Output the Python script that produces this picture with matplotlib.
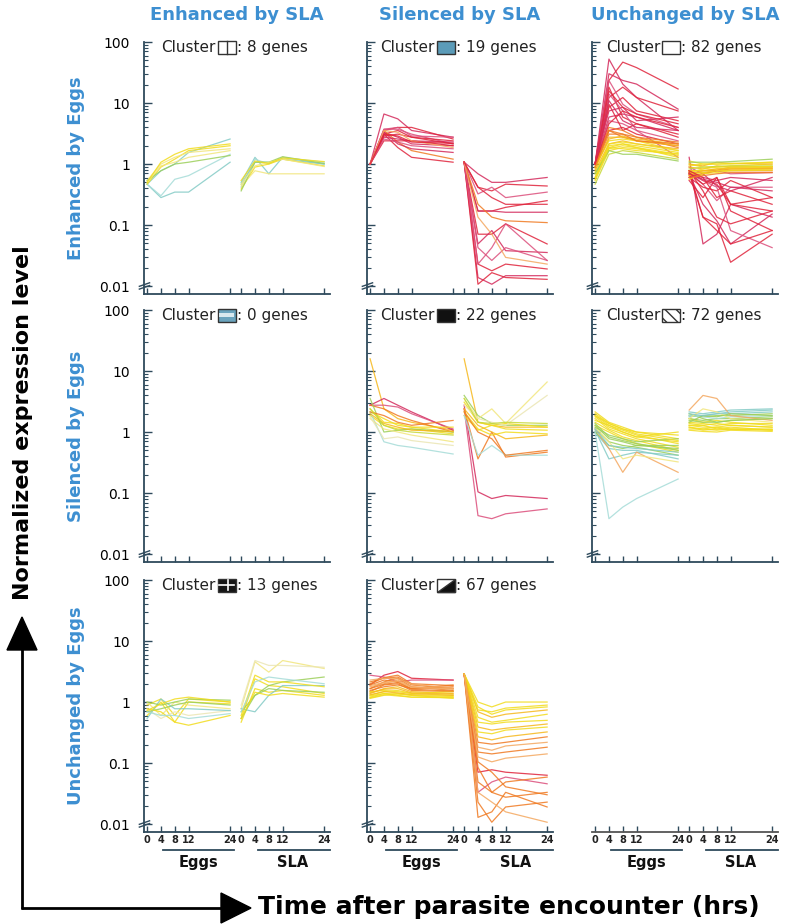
import numpy as np
import matplotlib
matplotlib.use("Agg")
import matplotlib.pyplot as plt
import matplotlib.transforms as mtransforms
from matplotlib.ticker import FixedLocator, NullFormatter
from matplotlib.patches import Rectangle, Polygon

# ---------------- data (log10 normalized expression) ----------------
TIME_EGGS = [0, 4, 8, 12, 24]
TIME_SLA = [0, 4, 8, 12, 24]
TICK_LABELS = ["0", "4", "8", "12", "24", "0", "4", "8", "12", "24"]
COL_TITLES = ["Enhanced by SLA", "Silenced by SLA", "Unchanged by SLA"]
ROW_TITLES = ["Enhanced by Eggs", "Silenced by Eggs", "Unchanged by Eggs"]
GENE_COUNTS = [8, 19, 82, 0, 22, 72, 13, 67]

A_EGGS = [[-0.33, -0.55, -0.46, -0.46, 0.03], [-0.33, -0.52, -0.25, -0.19, 0.16],
          [-0.33, -0.11, 0.00, 0.19, 0.41], [-0.33, -0.05, 0.08, 0.22, 0.30],
          [-0.27, 0.00, 0.11, 0.19, 0.25], [-0.27, -0.11, 0.00, 0.03, 0.14],
          [-0.30, -0.03, 0.03, 0.11, 0.22], [-0.30, 0.03, 0.16, 0.25, 0.33]]
A_SLA = [[-0.30, 0.11, -0.16, 0.11, 0.00], [-0.38, 0.08, 0.00, 0.11, 0.03],
         [-0.33, 0.03, 0.03, 0.08, 0.00], [-0.41, -0.05, 0.00, 0.08, -0.03],
         [-0.36, -0.11, -0.16, -0.16, -0.16], [-0.44, 0.03, 0.03, 0.12, 0.01],
         [-0.33, -0.03, 0.03, 0.08, -0.04], [-0.27, 0.05, 0.01, 0.10, 0.04]]
A_COL = ['teal', 'lteal', 'teal', 'yellow', 'lyellow', 'green', 'lyellow', 'yellow']

B_EGGS = [[0, 0.82, 0.74, 0.55, 0.44], [0, 0.55, 0.60, 0.60, 0.41], [0, 0.57, 0.57, 0.49, 0.33],
          [0, 0.49, 0.55, 0.44, 0.38], [0, 0.52, 0.44, 0.33, 0.30], [0, 0.55, 0.36, 0.22, 0.08],
          [0, 0.49, 0.27, 0.11, 0.03], [0, 0.44, 0.41, 0.38, 0.36], [0, 0.57, 0.60, 0.46, 0.44],
          [0, 0.38, 0.38, 0.38, 0.30], [0, 0.52, 0.33, 0.25, 0.19], [0, 0.46, 0.49, 0.44, 0.33],
          [0, 0.41, 0.36, 0.30, 0.25], [0, 0.55, 0.52, 0.38, 0.27], [0, 0.49, 0.46, 0.36, 0.34]]
B_SLA = [[0.03, -0.16, -0.30, -0.30, -0.22], [0.03, -0.38, -0.44, -0.33, -0.36],
         [0.03, -0.49, -0.38, -0.55, -0.46], [0.03, -0.77, -0.77, -0.71, -0.60],
         [0.03, -0.77, -0.77, -0.79, -0.79], [0.03, -0.66, -0.87, -0.93, -0.96],
         [0.03, -1.15, -1.15, -0.98, -1.31], [0.03, -1.31, -1.09, -1.42, -1.45],
         [0.03, -1.37, -1.58, -1.37, -1.58], [0.03, -1.64, -1.75, -1.64, -1.72],
         [0.03, -1.86, -1.97, -1.83, -1.83], [0.03, -1.97, -1.78, -1.86, -1.89],
         [0.03, -1.64, -1.37, -0.98, -1.58], [0.03, -0.87, -1.15, -1.53, -1.64],
         [0.03, -0.38, -0.55, -0.66, -0.66]]
B_COL = ['crimson', 'red', 'pink', 'red', 'crimson', 'orange', 'red', 'crimson',
         'pink', 'red', 'crimson', 'red', 'pink', 'lorange', 'red']

C_EGGS = [[0, 1.72, 1.31, 1.09, 0.55], [0, 1.37, 1.67, 1.58, 1.23], [0, 1.48, 1.37, 1.31, 0.90],
          [0, 1.09, 1.26, 1.09, 0.87], [0, 1.37, 0.98, 0.82, 0.60], [0, 0.93, 1.09, 0.87, 0.71],
          [0, 0.77, 0.82, 0.77, 0.55], [0, 1.26, 0.77, 0.66, 0.44], [0, 0.71, 0.66, 0.55, 0.38],
          [0, 0.98, 0.55, 0.66, 0.49], [0, 0.87, 0.93, 0.71, 0.77], [0, 0.55, 0.60, 0.49, 0.33],
          [0, 1.15, 0.87, 0.55, 0.11], [0, 0.60, 0.55, 0.44, 0.36], [-0.05, 0.49, 0.49, 0.44, 0.27],
          [0, 0.55, 0.44, 0.38, 0.30], [-0.05, 0.38, 0.41, 0.38, 0.22], [-0.11, 0.33, 0.38, 0.33, 0.25],
          [-0.16, 0.30, 0.33, 0.30, 0.19], [-0.22, 0.25, 0.30, 0.27, 0.16], [-0.27, 0.22, 0.27, 0.25, 0.14],
          [-0.05, 0.41, 0.46, 0.38, 0.30], [-0.14, 0.27, 0.33, 0.27, 0.11], [-0.33, 0.16, 0.22, 0.19, 0.08],
          [-0.22, 0.33, 0.36, 0.33, 0.22], [-0.16, 0.22, 0.16, 0.16, 0.05], [-0.25, 0.27, 0.25, 0.22, 0.17],
          [-0.08, 0.44, 0.44, 0.41, 0.33], [0, 1.20, 0.93, 0.82, 0.66], [0, 1.04, 0.71, 0.60, 0.55],
          [0, 0.66, 0.87, 0.77, 0.60], [-0.05, 0.55, 0.49, 0.38, 0.33]]
C_SLA = [[0.11, -1.31, -1.15, -0.66, -0.87], [-0.11, -0.87, -0.98, -1.61, -1.15],
         [-0.16, -0.66, -0.93, -1.31, -0.82], [-0.11, -0.27, -0.33, -0.66, -0.77],
         [-0.16, -0.33, -0.60, -0.38, -0.38], [-0.22, -0.38, -0.44, -0.27, -0.55],
         [-0.16, -0.22, -0.27, -0.22, -0.27], [-0.27, -0.55, -0.22, -0.77, -1.09],
         [-0.16, -0.27, -0.38, -1.09, -1.37], [-0.11, -0.44, -0.87, -0.98, -0.77],
         [-0.22, -0.16, -0.36, -0.44, -0.22], [-0.16, -0.87, -1.09, -1.31, -1.09],
         [-0.05, -0.16, -0.11, -0.16, -0.14], [-0.11, -0.11, -0.10, -0.05, -0.05],
         [-0.19, -0.16, -0.11, -0.11, -0.11], [-0.14, -0.14, -0.11, -0.08, -0.08],
         [0.00, -0.05, -0.05, -0.03, 0.00], [-0.05, -0.08, -0.03, -0.05, -0.04],
         [-0.11, -0.11, -0.08, -0.07, -0.05], [0.05, 0.00, 0.00, 0.00, 0.03],
         [-0.16, -0.14, -0.11, -0.10, -0.08], [0.00, -0.03, 0.03, 0.01, 0.00],
         [-0.25, -0.16, -0.14, -0.11, -0.10], [-0.08, -0.05, -0.04, -0.03, -0.03],
         [-0.03, 0.00, 0.00, 0.01, 0.03], [0.03, 0.03, 0.03, 0.04, 0.08],
         [-0.14, -0.08, -0.05, -0.05, -0.04], [-0.19, -0.11, -0.08, -0.08, -0.07],
         [-0.11, -0.22, -0.55, -0.44, -0.66], [-0.16, -0.25, -0.30, -0.38, -0.44],
         [-0.14, -0.33, -0.22, -0.66, -0.55], [-0.22, -0.19, -0.16, -0.14, -0.14]]
C_COL = ['crimson', 'red', 'crimson', 'red', 'pink', 'red', 'crimson', 'red', 'pink', 'red',
         'crimson', 'red', 'pink', 'orange', 'orange', 'orange', 'yellow', 'yorange', 'yellow',
         'yellow', 'yellow', 'yorange', 'yellow', 'ygreen', 'yellow', 'green', 'yellow', 'yorange',
         'red', 'crimson', 'red', 'orange']

E_EGGS = [[1.20, 0.38, 0.22, 0.16, 0.03], [0.44, 0.55, 0.44, 0.33, 0.03], [0.44, 0.44, 0.41, 0.30, 0.05],
          [0.44, 0.38, 0.27, 0.19, 0.00], [0.33, 0.22, 0.11, 0.08, 0.00], [0.27, 0.11, 0.05, 0.05, -0.03],
          [0.55, 0.00, 0.03, 0.05, 0.00], [0.33, -0.16, -0.22, -0.25, -0.36], [0.22, 0.05, 0.00, -0.05, -0.16],
          [0.38, 0.16, 0.14, 0.08, 0.08], [0.25, -0.11, -0.08, -0.14, -0.22], [0.33, 0.27, 0.16, 0.11, 0.19],
          [0.30, 0.14, 0.08, 0.03, 0.01], [0.38, 0.11, 0.03, 0.00, -0.05]]
E_SLA = [[1.20, 0.16, 0.11, 0.08, 0.08], [0.44, -0.98, -1.09, -1.04, -1.09], [0.38, -1.37, -1.42, -1.34, -1.26],
         [0.38, -0.44, 0.00, -0.41, -0.33], [0.27, 0.03, 0.11, 0.05, 0.03], [0.33, 0.05, -0.05, 0.00, -0.03],
         [0.60, 0.27, 0.14, 0.11, 0.11], [0.27, -0.38, -0.22, -0.38, -0.38], [0.55, 0.22, 0.38, 0.14, 0.82],
         [0.49, 0.16, 0.11, 0.14, 0.08], [0.44, 0.22, 0.16, 0.11, 0.60], [0.33, 0.00, -0.11, -0.38, -0.30],
         [0.38, 0.11, 0.00, -0.11, -0.05], [0.55, 0.16, 0.14, 0.16, 0.14]]
E_COL = ['yorange', 'crimson', 'pink', 'orange', 'yellow', 'yellow', 'green', 'lteal',
         'lyellow', 'yellow', 'pale', 'orange', 'yorange', 'ygreen']

F_EGGS = [[0.33, 0.16, 0.08, 0.00, -0.11], [0.27, 0.11, 0.03, -0.05, -0.19], [0.22, 0.05, -0.03, -0.11, -0.25],
          [0.30, 0.14, 0.05, 0.00, -0.05], [0.16, 0.03, -0.08, -0.14, -0.30], [0.11, 0.00, -0.11, -0.19, -0.33],
          [0.11, -0.11, -0.16, -0.22, -0.27], [0.05, -0.16, -0.22, -0.25, -0.38], [0.00, -0.27, -0.30, -0.30, -0.44],
          [0.03, -0.44, -0.38, -0.33, -0.38], [0.00, -0.22, -0.27, -0.22, -0.22], [0.00, -1.42, -1.23, -1.09, -0.77],
          [0.05, -0.27, -0.66, -0.33, -0.66], [0.08, -0.16, -0.44, -0.38, -0.49], [0.25, 0.08, 0.00, -0.08, -0.16],
          [0.08, -0.05, -0.11, -0.16, -0.11], [0.19, 0.11, 0.00, -0.08, 0.00], [0.14, -0.08, -0.14, -0.19, -0.30],
          [0.27, 0.14, 0.05, -0.03, -0.14], [0.05, -0.22, -0.25, -0.27, -0.33]]
F_SLA = [[0.16, 0.14, 0.11, 0.14, 0.14], [0.11, 0.08, 0.08, 0.11, 0.08], [0.05, 0.05, 0.03, 0.05, 0.05],
         [0.22, 0.16, 0.19, 0.16, 0.11], [0.08, 0.03, 0.05, 0.08, 0.03], [0.03, 0.01, 0.00, 0.03, 0.01],
         [0.27, 0.25, 0.27, 0.27, 0.30], [0.22, 0.19, 0.22, 0.22, 0.25], [0.33, 0.30, 0.33, 0.36, 0.38],
         [0.25, 0.27, 0.30, 0.30, 0.33], [0.30, 0.22, 0.16, 0.19, 0.22], [0.27, 0.25, 0.22, 0.25, 0.27],
         [0.36, 0.60, 0.55, 0.27, 0.19], [0.22, 0.38, 0.33, 0.22, 0.16], [0.14, 0.11, 0.14, 0.11, 0.08],
         [0.16, 0.27, 0.25, 0.30, 0.27], [0.08, 0.05, 0.08, 0.05, 0.03], [0.19, 0.16, 0.16, 0.19, 0.22],
         [0.11, 0.11, 0.05, 0.04, 0.04], [0.30, 0.27, 0.30, 0.33, 0.36]]
F_COL = ['yellow', 'yellow', 'yellow', 'yellow', 'yellow', 'yellow', 'green', 'green', 'teal', 'teal',
         'green', 'lteal', 'lorange', 'lyellow', 'yellow', 'green', 'yellow', 'green', 'yellow', 'teal']

G_EGGS = [[-0.05, 0.05, -0.22, 0.05, 0.00], [-0.22, 0.00, -0.33, 0.00, -0.03], [0.00, -0.22, 0.00, -0.05, -0.11],
          [-0.11, -0.27, -0.16, -0.22, -0.14], [-0.16, -0.11, -0.05, 0.00, -0.05], [-0.27, 0.05, -0.11, -0.11, -0.14],
          [-0.11, -0.16, -0.33, -0.38, -0.22], [0.00, -0.05, 0.00, 0.05, 0.03], [-0.14, -0.03, 0.05, 0.08, 0.00],
          [-0.16, -0.22, -0.22, -0.27, -0.19]]
G_SLA = [[-0.27, 0.38, 0.27, 0.25, 0.14], [-0.33, 0.22, 0.16, 0.19, 0.11], [-0.11, 0.66, 0.49, 0.68, 0.55],
         [-0.05, 0.68, 0.60, 0.60, 0.57], [-0.16, 0.11, 0.27, 0.33, 0.41], [-0.11, -0.16, 0.11, 0.27, 0.27],
         [-0.22, 0.44, 0.33, 0.33, 0.25], [-0.27, 0.11, 0.22, 0.19, 0.16], [-0.27, 0.16, 0.11, 0.14, 0.08],
         [-0.16, 0.33, 0.41, 0.38, 0.30]]
G_COL = ['yellow', 'yellow', 'lyellow', 'pale', 'green', 'teal', 'yellow', 'green', 'yellow', 'lteal']

H_EGGS = [[0.28, 0.44, 0.50, 0.39, 0.36], [0.44, 0.41, 0.33, 0.36, 0.36], [0.33, 0.39, 0.41, 0.28, 0.22],
          [0.22, 0.33, 0.39, 0.25, 0.19], [0.17, 0.28, 0.30, 0.19, 0.17], [0.11, 0.17, 0.19, 0.14, 0.11],
          [0.06, 0.11, 0.14, 0.11, 0.06], [0.28, 0.36, 0.33, 0.22, 0.28], [0.14, 0.22, 0.25, 0.17, 0.14],
          [0.08, 0.14, 0.11, 0.08, 0.08], [0.19, 0.25, 0.28, 0.22, 0.25], [0.17, 0.19, 0.17, 0.14, 0.17],
          [0.25, 0.30, 0.36, 0.25, 0.22], [0.12, 0.17, 0.15, 0.12, 0.11], [0.30, 0.40, 0.44, 0.30, 0.27],
          [0.07, 0.12, 0.10, 0.08, 0.07], [0.22, 0.29, 0.32, 0.21, 0.18], [0.15, 0.21, 0.22, 0.15, 0.13],
          [0.36, 0.39, 0.38, 0.29, 0.23], [0.10, 0.14, 0.13, 0.11, 0.09], [0.27, 0.32, 0.34, 0.24, 0.21]]
H_SLA = [[0.46, -1.15, -1.11, -1.15, -1.20], [0.46, -1.48, -1.31, -1.23, -1.34], [0.46, -1.31, -1.48, -1.56, -1.48],
         [0.46, -1.64, -1.97, -1.72, -1.64], [0.46, -0.98, -1.15, -1.39, -1.52], [0.46, 0.00, -0.08, 0.00, 0.00],
         [0.46, -0.08, -0.20, -0.13, -0.08], [0.46, -1.07, -1.48, -1.31, -1.23], [0.46, -0.16, -0.25, -0.20, -0.13],
         [0.46, -0.25, -0.33, -0.30, -0.20], [0.46, -0.66, -0.69, -0.66, -0.57], [0.46, -0.33, -0.36, -0.33, -0.30],
         [0.46, -0.74, -0.79, -0.72, -0.66], [0.46, -0.41, -0.46, -0.43, -0.36], [0.46, -1.89, -1.80, -1.48, -1.72],
         [0.46, -0.49, -0.52, -0.46, -0.41], [0.46, -0.82, -0.85, -0.82, -0.74], [0.46, -0.57, -0.62, -0.57, -0.49],
         [0.46, -1.48, -1.64, -1.80, -1.97], [0.46, -0.13, -0.16, -0.10, -0.05], [0.46, -0.90, -0.98, -0.92, -0.85]]
H_COL = ['red', 'pink', 'orange', 'orange', 'orange', 'yellow', 'yellow', 'orange', 'yorange', 'yellow',
         'orange', 'yellow', 'lorange', 'yorange', 'orange', 'yellow', 'orange', 'yorange', 'lorange',
         'yellow', 'lorange']

# ---------------- styles ----------------
PALETTE = {'red': '#e0243c', 'crimson': '#d42a5c', 'pink': '#dc4f7c', 'orange': '#f07a22',
           'lorange': '#f4a860', 'yorange': '#f6b81c', 'yellow': '#f2dc1e', 'lyellow': '#f2e67e',
           'pale': '#ebe6b4', 'ygreen': '#c6d83a', 'green': '#9ccf5a', 'teal': '#84cbc6',
           'lteal': '#a6dcd8'}
BLUE = '#3d8fd1'
SPINE = '#2e4a5c'

W, H = 787, 924
plt.rcParams['font.family'] = ['DejaVu Sans']
fig = plt.figure(figsize=(W / 100, H / 100), dpi=100)

# background overlay for arrows / big labels (pixel coordinates)
ax0 = fig.add_axes([0, 0, 1, 1], zorder=-1)
ax0.set_xlim(0, W)
ax0.set_ylim(H, 0)
ax0.axis('off')
ax0.plot([22, 22], [909, 645], color='k', lw=2.0, solid_capstyle='butt')
ax0.add_patch(Polygon([[22, 617], [7, 650], [37, 650]], closed=True, color='k'))
ax0.plot([21, 225], [908, 908], color='k', lw=2.0, solid_capstyle='butt')
ax0.add_patch(Polygon([[251, 908], [221, 893], [221, 923]], closed=True, color='k'))
ax0.text(258, 907, 'Time after parasite encounter (hrs)', fontsize=18, fontweight='bold',
         ha='left', va='center', color='k')
ax0.text(23, 423, 'Normalized expression level', fontsize=16, fontweight='bold',
         rotation=90, ha='center', va='center', color='k')

COL_LEFT = [144, 367, 592]
ROW_TOP = [42, 310, 580]
AX_W, AX_H = 186, 252
YMIN, YMAX = 10 ** (-2.13), 100.0
XMIN, XMAX = -0.9, 52.9
SLA_SHIFT = 27.2
XTICKS = list(TIME_EGGS) + [t + SLA_SHIFT for t in TIME_SLA]

for j, t in enumerate(COL_TITLES):
    fig.text((COL_LEFT[j] + AX_W / 2) / W, 1 - 15 / H, t, color=BLUE, fontsize=13,
             fontweight='bold', ha='center', va='center')
for i, t in enumerate(ROW_TITLES):
    fig.text(76 / W, 1 - (ROW_TOP[i] + AX_H / 2) / H, t, color=BLUE, fontsize=13,
             fontweight='bold', rotation=90, ha='center', va='center')


def px_axes(left, top):
    return fig.add_axes([left / W, 1 - (top + AX_H) / H, AX_W / W, AX_H / H])


def style_axes(ax, row, col, has_y=True):
    ax.set_yscale('log')
    ax.set_ylim(YMIN, YMAX)
    ax.set_xlim(XMIN, XMAX)
    for s in ['top', 'right']:
        ax.spines[s].set_visible(False)
    ax.spines['bottom'].set_color(SPINE)
    ax.spines['bottom'].set_linewidth(1.3)
    ax.set_xticks(XTICKS)
    bottom = row == 2
    ax.set_xticklabels(TICK_LABELS)
    ax.tick_params(axis='x', direction='in', length=4, width=1, color=SPINE,
                   labelbottom=bottom, labelsize=7, pad=2)
    for lab in ax.get_xticklabels():
        lab.set_fontweight('bold')
        lab.set_color('#222222')
    if has_y:
        ax.spines['left'].set_color(SPINE)
        ax.spines['left'].set_linewidth(1.3)
        ax.yaxis.set_major_locator(FixedLocator([0.01, 0.1, 1, 10, 100]))
        minors = [m * 10.0 ** e for e in range(-2, 2) for m in range(2, 10)]
        ax.yaxis.set_minor_locator(FixedLocator(minors))
        ax.yaxis.set_minor_formatter(NullFormatter())
        ax.set_yticklabels(['0.01', '0.1', '1', '10', '100'])
        ax.tick_params(axis='y', which='major', direction='in', length=6, width=1,
                       color=SPINE, labelleft=(col == 0), labelsize=10, pad=10)
        ax.tick_params(axis='y', which='minor', direction='in', length=3, width=0.8,
                       color=SPINE)
        # axis break mark at 0.01
        yf = (np.log10(0.01) - np.log10(YMIN)) / (np.log10(YMAX) - np.log10(YMIN))
        for k in (0, 1):
            ax.plot([-0.025, 0.03], [yf - 0.012 + k * 0.011, yf + 0.002 + k * 0.011],
                    transform=ax.transAxes, color=SPINE, lw=1.0, clip_on=False)
    else:
        ax.spines['left'].set_visible(False)
        ax.set_yticks([])
        ax.yaxis.set_minor_locator(FixedLocator([]))
    if row == 2:
        tr = mtransforms.blended_transform_factory(ax.transData, ax.transAxes)
        ax.plot([4.7, 25.0], [-0.071, -0.071], transform=tr, color=SPINE, lw=1.3, clip_on=False)
        ax.plot([32.0, 52.9], [-0.071, -0.071], transform=tr, color=SPINE, lw=1.3, clip_on=False)
        ax.text(15.0, -0.12, 'Eggs', transform=tr, ha='center', va='center',
                fontsize=10.5, fontweight='bold', color='#111111')
        ax.text(42.0, -0.12, 'SLA', transform=tr, ha='center', va='center',
                fontsize=10.5, fontweight='bold', color='#111111')


def draw_genes(ax, eggs, sla, cols):
    for e, s, c in zip(eggs, sla, cols):
        ax.plot(TIME_EGGS, 10 ** np.array(e), color=PALETTE[c], lw=0.9, alpha=0.85)
        ax.plot([t + SLA_SHIFT for t in TIME_SLA], 10 ** np.array(s), color=PALETTE[c],
                lw=0.9, alpha=0.85)


PANELS = [
    (0, 0, A_EGGS, A_SLA, A_COL, 'split'),
    (0, 1, B_EGGS, B_SLA, B_COL, 'blue'),
    (0, 2, C_EGGS, C_SLA, C_COL, 'empty'),
    (1, 0, [], [], [], 'band'),
    (1, 1, E_EGGS, E_SLA, E_COL, 'black'),
    (1, 2, F_EGGS, F_SLA, F_COL, 'hatch'),
    (2, 0, G_EGGS, G_SLA, G_COL, 'cross'),
    (2, 1, H_EGGS, H_SLA, H_COL, 'diag'),
]
CLUSTER_X = [0.093, 0.072, 0.075]

labels = []
for k, (r, c, eg, sl, co, icon) in enumerate(PANELS):
    ax = px_axes(COL_LEFT[c], ROW_TOP[r])
    style_axes(ax, r, c)
    draw_genes(ax, eg, sl, co)
    t = ax.text(CLUSTER_X[c], 0.978, 'Cluster', transform=ax.transAxes, fontsize=11,
                ha='left', va='center', color='#222222')
    labels.append((t, GENE_COUNTS[k], icon))

# empty bottom-right: only time axis
ax9 = px_axes(COL_LEFT[2], ROW_TOP[2])
style_axes(ax9, 2, 2, has_y=False)
ax9.spines['bottom'].set_color('#555555')

# cluster icons placed after text measurement
fig.canvas.draw()
ren = fig.canvas.get_renderer()
inv = fig.transFigure.inverted()
EDGE = '#333333'
for t, n, icon in labels:
    bb = t.get_window_extent(ren)
    x0 = bb.x1 + 2
    yc = (bb.y0 + bb.y1) / 2 + 0.5
    w, h = 18, 13
    (fx0, fy0) = inv.transform((x0, yc - h / 2))
    (fx1, fy1) = inv.transform((x0 + w, yc + h / 2))
    fw, fh = fx1 - fx0, fy1 - fy0
    face = {'split': 'white', 'blue': '#5b9bb8', 'empty': 'white', 'band': '#6aa3bd',
            'black': '#111111', 'hatch': 'white', 'cross': '#151515', 'diag': 'white'}[icon]
    rect = Rectangle((fx0, fy0), fw, fh, transform=fig.transFigure, facecolor=face,
                     edgecolor=EDGE, lw=1.0, hatch='\\\\\\' if icon == 'hatch' else None)
    fig.add_artist(rect)
    if icon == 'split':
        fig.add_artist(plt.Line2D([fx0 + fw / 2] * 2, [fy0, fy1], transform=fig.transFigure,
                                  color=EDGE, lw=1.0))
    if icon == 'band':
        fig.add_artist(Rectangle((fx0 + fw * 0.08, fy0 + fh * 0.35), fw * 0.84, fh * 0.3,
                                 transform=fig.transFigure, facecolor='#d8e8ee', edgecolor='none'))
    if icon == 'cross':
        fig.add_artist(plt.Line2D([fx0 + fw * 0.1, fx0 + fw * 0.9], [fy0 + fh * 0.5] * 2,
                                  transform=fig.transFigure, color='white', lw=1.2))
        fig.add_artist(plt.Line2D([fx0 + fw * 0.6] * 2, [fy0 + fh * 0.15, fy0 + fh * 0.85],
                                  transform=fig.transFigure, color='white', lw=1.2))
    if icon == 'diag':
        fig.add_artist(Polygon([[fx1, fy1], [fx1, fy0], [fx0, fy0]], closed=True,
                               transform=fig.transFigure, facecolor='#111111', edgecolor=EDGE))
    (tx, ty) = inv.transform((x0 + w + 1, (bb.y0 + bb.y1) / 2))
    fig.text(tx, ty, ': %d genes' % n, fontsize=11, ha='left', va='center', color='#222222')

fig.savefig('out.png', dpi=100)
